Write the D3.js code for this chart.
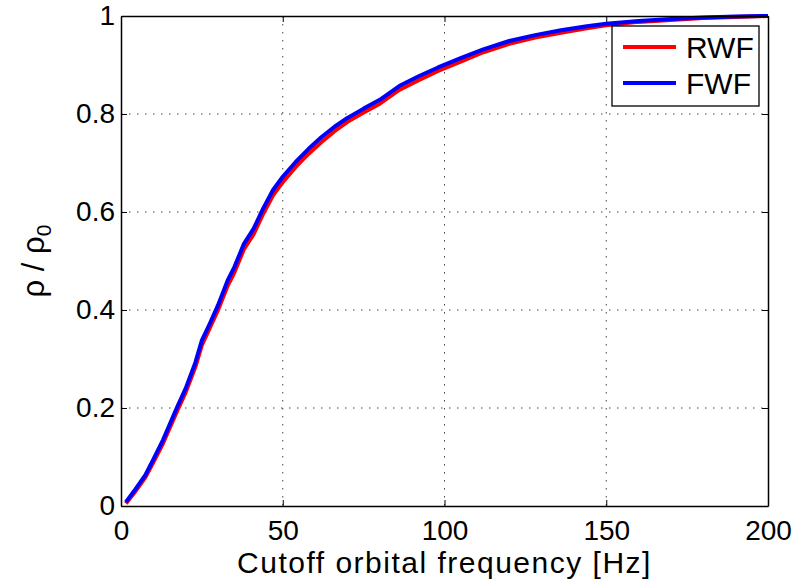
<!DOCTYPE html>
<html lang="en">
<head>
<meta charset="utf-8">
<title>Cutoff orbital frequency</title>
<script src="https://d3js.org/d3.v7.min.js"></script>
<style>
  body { margin: 0; background: #fff; }
  svg text { font-family: "Liberation Sans", Arial, Helvetica, sans-serif; fill: #000; }
</style>
</head>
<body>
<div id="chart"></div>
<script>
// cutoff frequency [Hz]
const freq = [1.5, 4, 7.5, 10, 13, 17.5, 20, 23, 25, 27.5, 30, 33, 35, 38, 41, 44, 47, 50, 54, 58,
  62, 66, 70, 75, 80, 86, 92, 98, 105, 112, 120, 128, 136, 144, 150, 160, 170, 180, 190, 200];
// rho / rho0, full waveform
const fwf = [0.008, 0.03, 0.063, 0.095, 0.135, 0.204, 0.24, 0.293, 0.338, 0.373, 0.41, 0.461, 0.487, 0.535, 0.566, 0.608, 0.645, 0.672, 0.702, 0.729,
  0.753, 0.774, 0.792, 0.811, 0.829, 0.857, 0.877, 0.895, 0.914, 0.932, 0.949, 0.961, 0.971, 0.979, 0.984, 0.99, 0.994, 0.997, 0.999, 1.0];
// rho / rho0, restricted waveform
const rwf = [0.005, 0.026, 0.058, 0.089, 0.128, 0.196, 0.232, 0.284, 0.328, 0.364, 0.4, 0.45, 0.476, 0.524, 0.555, 0.597, 0.634, 0.661, 0.692, 0.719,
  0.743, 0.765, 0.784, 0.803, 0.821, 0.849, 0.869, 0.888, 0.907, 0.926, 0.943, 0.956, 0.966, 0.975, 0.981, 0.988, 0.992, 0.996, 0.998, 1.0];
const xTicks = [0, 50, 100, 150, 200];
const yTicks = [0, 0.2, 0.4, 0.6, 0.8, 1];
const series = [
  { name: "RWF", color: "#ff0000", values: rwf },
  { name: "FWF", color: "#0000ff", values: fwf }
];

const W = 802, H = 582;
const margin = { top: 16, right: 34, bottom: 76, left: 121 };
const width = W - margin.left - margin.right,
  height = H - margin.top - margin.bottom;

const svg = d3.select("#chart").append("svg")
  .attr("width", W).attr("height", H);
const g = svg.append("g")
  .attr("transform", "translate(" + margin.left + "," + margin.top + ")");

const x = d3.scaleLinear().domain([0, 200]).range([0, width]);
const y = d3.scaleLinear().domain([0, 1]).range([height, 0]);

// grid
g.append("g").selectAll("line").data(xTicks.slice(1, -1)).join("line")
  .attr("x1", d => x(d)).attr("x2", d => x(d))
  .attr("y1", 0).attr("y2", height)
  .attr("stroke", "#444").attr("stroke-width", 1).attr("stroke-dasharray", "1.5,6.5");
g.append("g").selectAll("line").data(yTicks.slice(1, -1)).join("line")
  .attr("y1", d => y(d)).attr("y2", d => y(d))
  .attr("x1", 0).attr("x2", width)
  .attr("stroke", "#444").attr("stroke-width", 1).attr("stroke-dasharray", "1.5,6.5");

// curves
const line = d3.line().x((d, i) => x(freq[i])).y(d => y(d));
series.forEach(s => {
  g.append("path").datum(s.values)
    .attr("fill", "none").attr("stroke", s.color)
    .attr("stroke-width", 4).attr("stroke-linejoin", "round")
    .attr("d", line);
});

// axes, MATLAB style with inward ticks
const fmt = d => String(d);
const xAxis = g.append("g").attr("transform", "translate(0," + height + ")")
  .call(d3.axisBottom(x).tickValues(xTicks).tickFormat(fmt).tickSizeInner(-6).tickSizeOuter(0).tickPadding(14));
const yAxis = g.append("g")
  .call(d3.axisLeft(y).tickValues(yTicks).tickFormat(fmt).tickSizeInner(-6).tickSizeOuter(0).tickPadding(6));
g.append("g").call(d3.axisTop(x).tickValues(xTicks).tickFormat("").tickSizeInner(-6).tickSizeOuter(0));
g.append("g").attr("transform", "translate(" + width + ",0)")
  .call(d3.axisRight(y).tickValues(yTicks).tickFormat("").tickSizeInner(-6).tickSizeOuter(0));
g.selectAll(".domain").attr("stroke", "#000").attr("stroke-width", 1.5);
g.selectAll(".tick line").attr("stroke", "#000");
xAxis.selectAll("text").attr("font-size", 28).attr("dy", "0.71em");
yAxis.selectAll("text").attr("font-size", 28);

// axis labels
svg.append("text")
  .attr("x", margin.left + width / 2).attr("y", 573)
  .attr("text-anchor", "middle").attr("font-size", 30).attr("letter-spacing", 1.5)
  .text("Cutoff orbital frequency [Hz]");
const yl = svg.append("text")
  .attr("transform", "translate(44," + (margin.top + height / 2) + ") rotate(-90)")
  .attr("text-anchor", "middle").attr("font-size", 31);
yl.append("tspan").text("ρ / ρ");
yl.append("tspan").attr("font-size", 21).attr("dy", 7).text("0");

// legend
const leg = svg.append("g").attr("transform", "translate(612,26)");
leg.append("rect").attr("width", 147).attr("height", 80)
  .attr("fill", "#fff").attr("stroke", "#000").attr("stroke-width", 1.3);
series.forEach((s, i) => {
  const ly = 21 + i * 36;
  leg.append("line").attr("x1", 11).attr("x2", 64).attr("y1", ly).attr("y2", ly)
    .attr("stroke", s.color).attr("stroke-width", 4);
  leg.append("text").attr("x", 74).attr("y", ly + 11).attr("font-size", 30).text(s.name);
});
</script>
</body>
</html>
